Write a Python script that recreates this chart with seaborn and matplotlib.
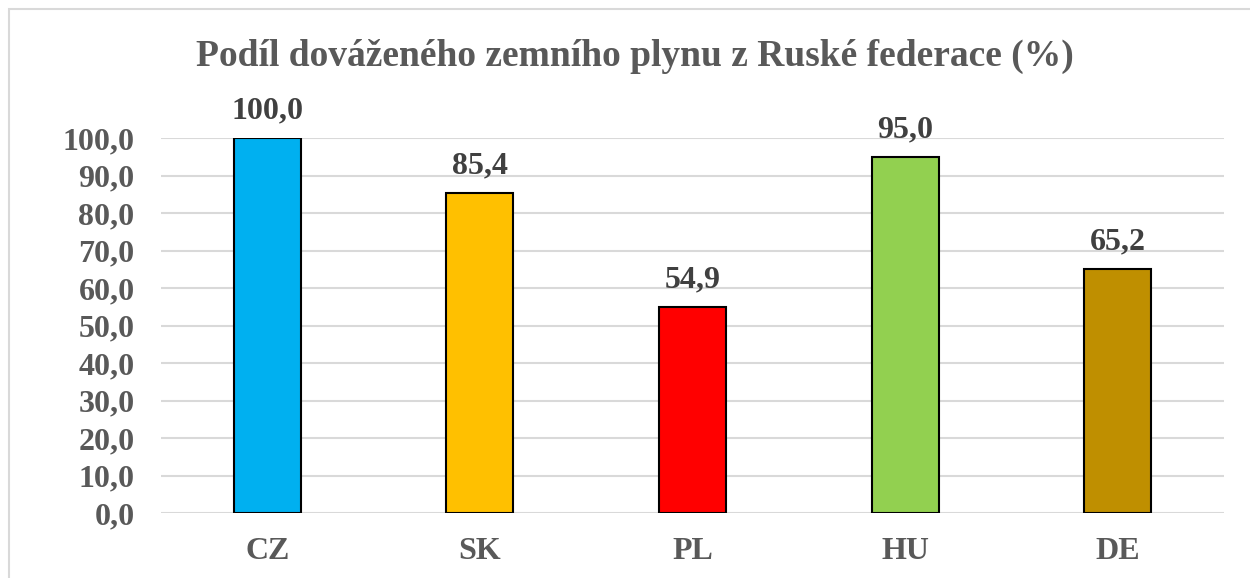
import matplotlib
matplotlib.use("Agg")
import matplotlib.pyplot as plt
import seaborn as sns
import pandas as pd
from matplotlib.patches import Rectangle
from matplotlib.ticker import FuncFormatter, MultipleLocator

countries = ["CZ", "SK", "PL", "HU", "DE"]
shares = [100.0, 85.4, 54.9, 95.0, 65.2]
bar_colors = ["#00B0F0", "#FFC000", "#FF0000", "#92D050", "#BF8F00"]
title = "Podíl dováženého zemního plynu z Ruské federace (%)"

df = pd.DataFrame({"country": countries, "share": shares})

sns.set_theme(style="white")
plt.rcParams["font.family"] = ["Liberation Serif", "DejaVu Serif"]
plt.rcParams["font.weight"] = "bold"

fig = plt.figure(figsize=(12.5, 5.78), dpi=100)
ax = fig.add_axes([161 / 1250, 1 - 513 / 578, (1224 - 161) / 1250, (513 - 138) / 578])

sns.barplot(data=df, x="country", y="share", hue="country", palette=bar_colors,
            legend=False, width=0.315, edgecolor="black", linewidth=1.5,
            saturation=1, ax=ax, zorder=3)

ax.set_ylim(0, 100)
ax.set_xlim(-0.5, 4.5)
ax.yaxis.set_major_locator(MultipleLocator(10))
ax.yaxis.set_major_formatter(FuncFormatter(lambda v, p: f"{v:.1f}".replace(".", ",")))
ax.grid(axis="y", color="#D9D9D9", linewidth=1.5, zorder=0)
ax.set_axisbelow(True)
for s in ax.spines.values():
    s.set_visible(False)
ax.set_xlabel("")
ax.set_ylabel("")
ax.tick_params(axis="both", length=0, colors="#595959", labelsize=23)
ax.tick_params(axis="y", pad=19)
ax.tick_params(axis="x", pad=17)
for lbl in ax.get_xticklabels() + ax.get_yticklabels():
    lbl.set_fontweight("bold")

for cont in ax.containers:
    labels = [f"{v:.1f}".replace(".", ",") for v in cont.datavalues]
    ax.bar_label(cont, labels=labels, padding=9, fontsize=23, fontweight="bold",
                 color="#404040", clip_on=False)

fig.text(635 / 1250, 1 - 56 / 578, title, ha="center", va="center", fontsize=27,
         fontweight="bold", color="#595959")

fig.patches.append(Rectangle((9 / 1250, -0.1), 1.2, 1 - 9 / 578 + 0.1,
                             transform=fig.transFigure, fill=False,
                             edgecolor="#D9D9D9", linewidth=1.5))

fig.savefig("out.png", dpi=100)
